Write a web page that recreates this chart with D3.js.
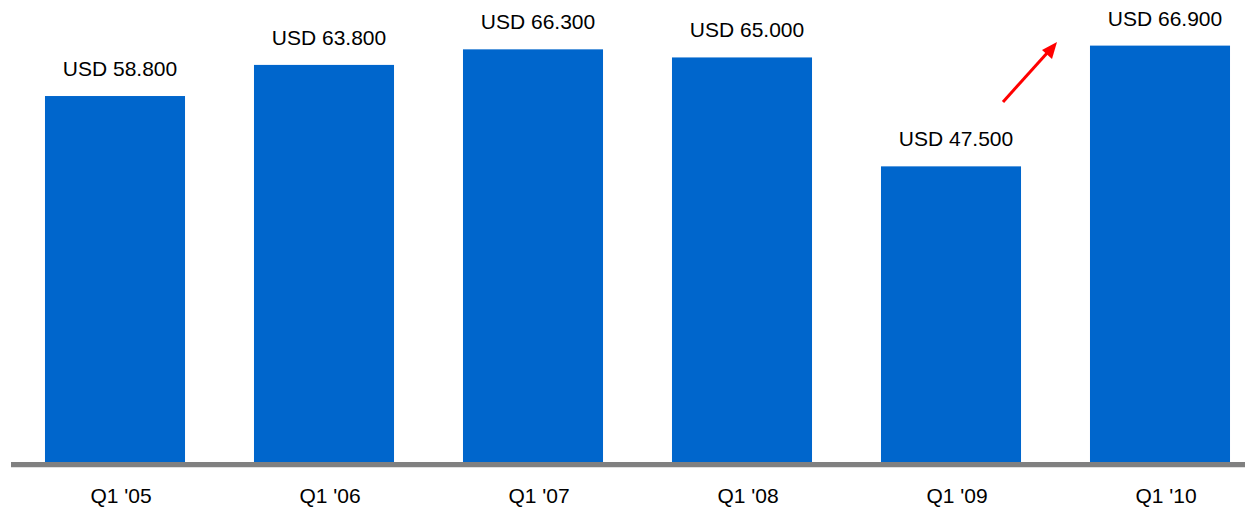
<!DOCTYPE html>
<html><head><meta charset="utf-8">
<script src="https://cdn.jsdelivr.net/npm/d3@7"></script>
<style>body{margin:0;background:#fff}svg{display:block}text{font-family:"Liberation Sans",Arial,sans-serif;fill:#000}</style>
</head><body><svg id="c" width="1245" height="508"></svg>
<script>
const categories = ["Q1 '05","Q1 '06","Q1 '07","Q1 '08","Q1 '09","Q1 '10"];
const values = [58.8, 63.8, 66.3, 65.0, 47.5, 66.9];
const valueLabels = ["USD 58.800","USD 63.800","USD 66.300","USD 65.000","USD 47.500","USD 66.900"];

const svg = d3.select("#c");
const baseY = 462;
const x = d3.scaleBand().domain(categories).range([10.5, 1264.5]).paddingInner(0.33).paddingOuter(0.165);
const y = d3.scaleLinear().domain([0, 70]).range([baseY, baseY - 70 * 6.224]);

svg.selectAll("rect.bar").data(values).join("rect").attr("class","bar")
  .attr("x", (d,i) => x(categories[i])).attr("width", x.bandwidth())
  .attr("y", d => y(d)).attr("height", d => baseY - y(d)).attr("fill", "#0066CC");

svg.append("rect").attr("x", 11).attr("y", baseY).attr("width", 1234).attr("height", 5).attr("fill", "#808080");
svg.append("rect").attr("x", 11).attr("y", baseY+5).attr("width", 1234).attr("height", 1).attr("fill", "#e0e0e0");

svg.selectAll("text.val").data(values).join("text").attr("class","val")
  .attr("x", (d,i) => x(categories[i]) + x.bandwidth()/2 + 5)
  .attr("y", d => y(d) - 20).attr("text-anchor","middle").attr("font-size", 21)
  .text((d,i) => valueLabels[i]);

const xAxis = d3.axisBottom(x).tickSize(0).tickPadding(0);
const ax = svg.append("g").attr("transform", `translate(6,${baseY})`).call(xAxis);
ax.select(".domain").remove();
ax.selectAll("text").attr("dy", 0).attr("y", 41).attr("font-size", 21)
  .attr("font-family", '"Liberation Sans",Arial,sans-serif').attr("fill", "#000");

// red arrow annotation
svg.append("line").attr("x1", 1003).attr("y1", 102).attr("x2", 1048).attr("y2", 52)
  .attr("stroke", "#ff0000").attr("stroke-width", 3);
svg.append("polygon").attr("points", "1057,42 1042,50 1052,59").attr("fill", "#ff0000");
</script></body></html>
